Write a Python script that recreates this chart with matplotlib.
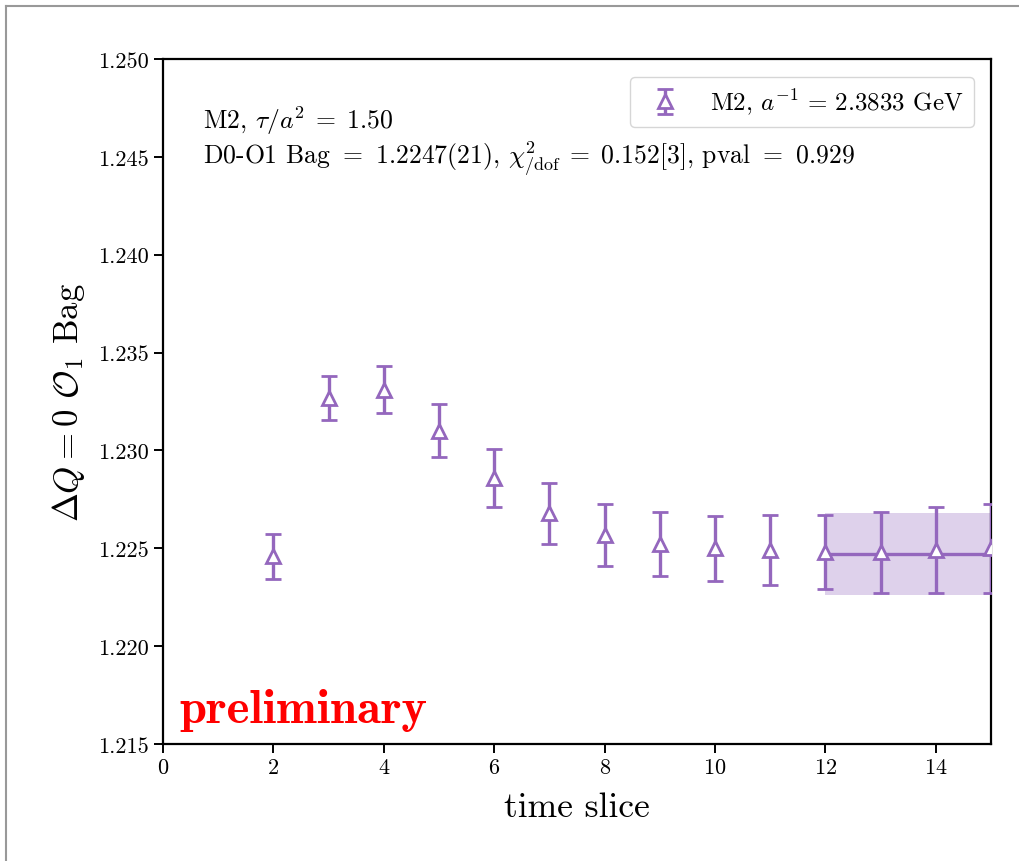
import matplotlib
matplotlib.use("Agg")
import matplotlib.pyplot as plt
from matplotlib.lines import Line2D

plt.rcParams['font.family'] = 'serif'
plt.rcParams['font.serif'] = ['cmr10']
plt.rcParams['mathtext.fontset'] = 'cm'
plt.rcParams['axes.formatter.use_mathtext'] = True
plt.rcParams['axes.unicode_minus'] = False

t = [2, 3, 4, 5, 6, 7, 8, 9, 10, 11, 12, 13, 14, 15]
bag = [1.2246, 1.2327, 1.2331, 1.2310, 1.2286, 1.2268, 1.2257, 1.2252, 1.2250,
       1.2249, 1.2248, 1.2248, 1.2249, 1.2250]
err = [0.00115, 0.00112, 0.00120, 0.00135, 0.00148, 0.00156, 0.00158, 0.00164,
       0.00166, 0.00179, 0.00190, 0.00207, 0.00220, 0.00227]
fit_range = [12, 15]
fit_val = 1.2247
fit_err = 0.0021
yticks = [1.215, 1.220, 1.225, 1.230, 1.235, 1.240, 1.245, 1.250]
xticks = [0, 2, 4, 6, 8, 10, 12, 14]

color = '#9467bd'

fig = plt.figure(figsize=(10.19, 8.62), dpi=100)
ax = fig.add_axes([163/1019, 1-745/862, (991-163)/1019, (745-60)/862])

ax.errorbar(t, bag, yerr=err, fmt='^', color=color, mfc='white', mec=color,
            ms=10, mew=2.0, elinewidth=2.4, capsize=5.5, capthick=2.4,
            label=r'M2, $a^{-1}\,=\,2.3833$ GeV', zorder=3)
ax.fill_between(fit_range, [fit_val - fit_err]*2, [fit_val + fit_err]*2,
                color=color, alpha=0.3, lw=0, zorder=1)
ax.plot(fit_range, [fit_val]*2, color=color, lw=2.4, zorder=2)

ax.set_xlim(0, 15)
ax.set_ylim(1.215, 1.250)
ax.set_xticks(xticks)
ax.set_yticks(yticks)
ax.set_yticklabels(['%.3f' % v for v in yticks])
ax.tick_params(labelsize=16, width=1.4, length=6.5)
for s in ax.spines.values():
    s.set_linewidth(1.6)

ax.set_xlabel('time slice', fontsize=25.5, labelpad=10)
ax.set_ylabel(r'$\Delta Q = 0\ \mathcal{O}_1$ Bag', fontsize=25, labelpad=8)

ax.text(0.048, 0.899, r'M2, $\tau/a^2\;=\;1.50$', transform=ax.transAxes,
        fontsize=18.5, va='baseline')
ax.text(0.048, 0.847,
        r'D0-O1 Bag $=$ $1.2247(21)$, $\chi^2_{/\mathrm{dof}}\;=\;0.152[3]$, pval $=$ $0.929$',
        transform=ax.transAxes, fontsize=18.5, va='baseline')
ax.text(0.02, 0.032, 'preliminary', transform=ax.transAxes, fontsize=35,
        color='red', family='cmb10', va='baseline')

ax.legend(loc='upper right', fontsize=18, framealpha=0.8, borderaxespad=0.7)

fig.add_artist(Line2D([6/1019, 6/1019], [0, 1-7/862], transform=fig.transFigure,
                      color='#999999', lw=1.5))
fig.add_artist(Line2D([6/1019, 1], [1-7/862, 1-7/862], transform=fig.transFigure,
                      color='#999999', lw=1.5))

fig.savefig('out.png', dpi=100)
